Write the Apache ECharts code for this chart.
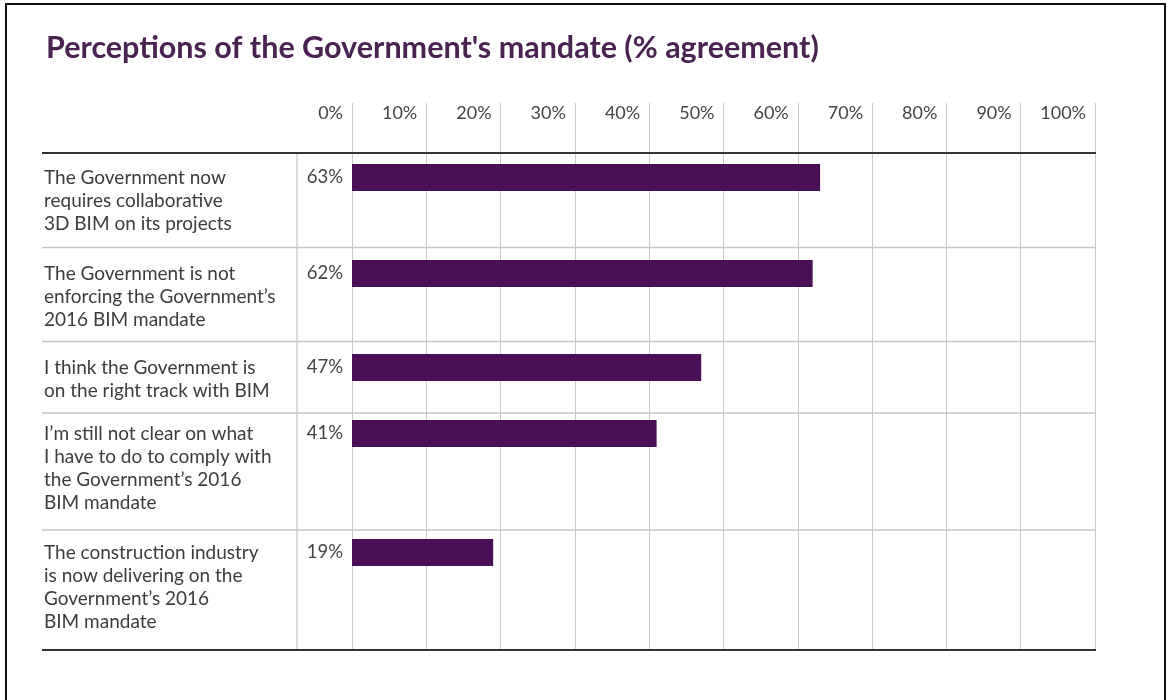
<!DOCTYPE html>
<html>
<head>
<meta charset="utf-8">
<script src="https://cdn.jsdelivr.net/npm/echarts@6/dist/echarts.min.js"></script>
<style>
  html, body { margin: 0; padding: 0; background: #ffffff; }
  #chart { width: 1168px; height: 700px; }
</style>
</head>
<body>
<div id="chart"></div>
<script>
// ---- data ----
const titleText = "Perceptions of the Government's mandate (% agreement)";
const categories = [
  "The Government now\nrequires collaborative\n3D BIM on its projects",
  "The Government is not\nenforcing the Government\u2019s\n2016 BIM mandate",
  "I think the Government is\non the right track with BIM",
  "I\u2019m still not clear on what\nI have to do to comply with\nthe Government\u2019s 2016\nBIM mandate",
  "The construction industry\nis now delivering on the\nGovernment\u2019s 2016\nBIM mandate"
];
const values = [63, 62, 47, 41, 19];
const axisMin = 0, axisMax = 100, axisStep = 10;

// ---- layout (pixels) ----
const plotLeft = 352, plotRight = 1095;
const headerTop = 103, headerLine = 153, tableBottom = 650;
const rowLines = [247.5, 341.5, 413, 530];
const barTops = [164, 260, 354, 420, 539];
const barHeight = 27;
const labelX = 44, valueColX = 297, tableLeft = 42;
const FONT = 'Lato, "Open Sans", sans-serif';
const barColor = '#4a1057';
const textColor = '#3c3c3c';

const grids = [{ left: plotLeft, width: plotRight - plotLeft, top: headerTop, height: tableBottom - headerTop }];
const xAxes = [{
  gridIndex: 0, type: 'value', position: 'top', min: axisMin, max: axisMax, interval: axisStep,
  axisLine: { show: false }, axisTick: { show: false },
  splitLine: { show: true, lineStyle: { color: '#c9c9c9', width: 1 } },
  axisLabel: {
    inside: true, margin: 10, formatter: '{value}%', align: 'right', verticalAlign: 'middle',
    padding: [0, 9, 0, 0], fontFamily: FONT, fontSize: 18, color: '#444'
  }
}];
const yAxes = [{ gridIndex: 0, type: 'value', show: false }];
const series = [];

categories.forEach((cat, i) => {
  const gi = i + 1;
  grids.push({ left: plotLeft, width: plotRight - plotLeft, top: barTops[i], height: barHeight });
  xAxes.push({ gridIndex: gi, type: 'value', min: axisMin, max: axisMax, show: false, splitLine: { show: false } });
  yAxes.push({ gridIndex: gi, type: 'category', data: [cat], show: false });
  series.push({
    type: 'bar', xAxisIndex: gi, yAxisIndex: gi, data: [values[i]],
    barWidth: '100%', itemStyle: { color: barColor },
    label: {
      show: true, position: 'left', distance: 9, formatter: '{c}%',
      fontFamily: FONT, fontSize: 18.5, color: '#444'
    },
    silent: true
  });
});

const graphics = [];
// outer frame
graphics.push({ type: 'rect', shape: { x: 6, y: 4, width: 1159, height: 720 },
  style: { fill: 'none', stroke: '#111', lineWidth: 2 }, silent: true });
// header and bottom lines
graphics.push({ type: 'line', shape: { x1: tableLeft, y1: headerLine, x2: plotRight + 1, y2: headerLine },
  style: { stroke: '#333', lineWidth: 2 }, z: 10 });
graphics.push({ type: 'line', shape: { x1: tableLeft, y1: tableBottom, x2: plotRight + 1, y2: tableBottom },
  style: { stroke: '#333', lineWidth: 2 }, z: 10 });
rowLines.forEach(y => graphics.push({ type: 'line', shape: { x1: tableLeft, y1: y, x2: plotRight, y2: y },
  style: { stroke: '#c4c4c4', lineWidth: 1.5 }, z: 1 }));
graphics.push({ type: 'line', shape: { x1: valueColX, y1: headerLine, x2: valueColX, y2: tableBottom },
  style: { stroke: '#c4c4c4', lineWidth: 1.2 }, z: 1 });
// category labels
categories.forEach((cat, i) => {
  graphics.push({ type: 'text', left: labelX, top: barTops[i] + barHeight / 2 - 11.5,
    style: { text: cat, font: '19px ' + FONT, fill: textColor, lineHeight: 23 }, z: 5 });
});

const chart = echarts.init(document.getElementById('chart'), null, { renderer: 'canvas' });
chart.setOption({
  backgroundColor: '#ffffff',
  animation: false,
  title: {
    text: titleText, left: 41, top: 28,
    textStyle: { fontFamily: FONT, fontSize: 30.5, fontWeight: 'bold', color: '#4b2353' }
  },
  grid: grids,
  xAxis: xAxes,
  yAxis: yAxes,
  series: series,
  graphic: graphics
});
</script>
</body>
</html>
